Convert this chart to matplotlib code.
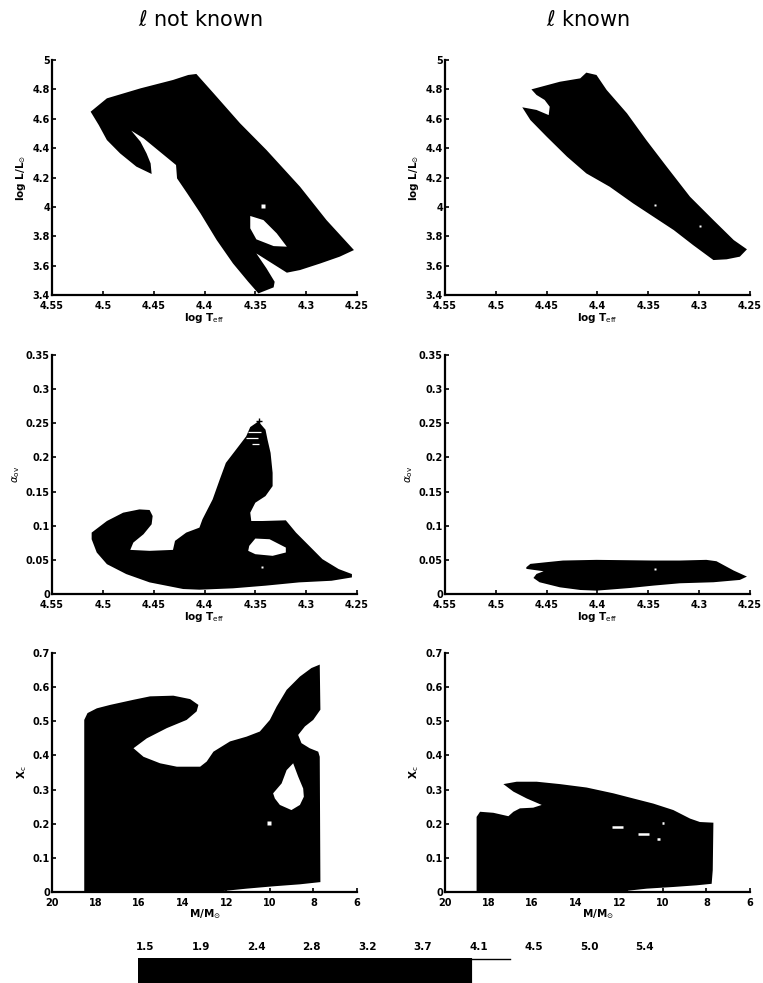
import numpy as np
import matplotlib
matplotlib.use("Agg")
import matplotlib.pyplot as plt
from matplotlib.colors import ListedColormap, BoundaryNorm

# ---- top row: allowed region in the HR diagram ----
hr_free_logt = [4.512, 4.496, 4.463, 4.431, 4.416, 4.408, 4.391, 4.365, 4.339, 4.306,
                4.280, 4.253, 4.267, 4.286, 4.306, 4.319, 4.349, 4.339, 4.331, 4.332,
                4.347, 4.357, 4.372, 4.388, 4.404, 4.417, 4.427, 4.428, 4.444, 4.460,
                4.472, 4.463, 4.457, 4.453, 4.452, 4.467, 4.483, 4.496, 4.504]
hr_free_logl = [4.648, 4.739, 4.807, 4.864, 4.898, 4.905, 4.773, 4.569, 4.387, 4.137,
                3.910, 3.706, 3.661, 3.615, 3.570, 3.552, 3.683, 3.581, 3.490, 3.452,
                3.411, 3.490, 3.615, 3.774, 3.956, 4.092, 4.194, 4.285, 4.376, 4.467,
                4.519, 4.444, 4.364, 4.296, 4.224, 4.274, 4.364, 4.455, 4.557]
hr_free_hole_logt = [4.355, 4.342, 4.329, 4.319, 4.332, 4.349, 4.355]
hr_free_hole_logl = [3.938, 3.910, 3.820, 3.729, 3.733, 3.779, 3.854]
hr_free_dot_logt = [4.342]
hr_free_dot_logl = [4.008]

hr_known_logt = [4.465, 4.437, 4.417, 4.411, 4.401, 4.391, 4.371, 4.352, 4.332, 4.309,
                 4.286, 4.266, 4.253, 4.260, 4.273, 4.286, 4.306, 4.325, 4.345, 4.365,
                 4.388, 4.411, 4.430, 4.450, 4.466, 4.474, 4.460, 4.448, 4.447, 4.452,
                 4.460]
hr_known_logl = [4.800, 4.852, 4.875, 4.914, 4.898, 4.796, 4.637, 4.455, 4.274, 4.069,
                 3.910, 3.774, 3.711, 3.661, 3.643, 3.638, 3.740, 3.842, 3.933, 4.024,
                 4.137, 4.228, 4.342, 4.478, 4.591, 4.678, 4.660, 4.625, 4.682, 4.728,
                 4.762]
hr_known_dot_logt = [4.343, 4.299]
hr_known_dot_logl = [4.013, 3.870]

# ---- middle row: overshoot parameter vs log Teff ----
ov_free_logt = [4.511, 4.496, 4.480, 4.464, 4.454, 4.451, 4.452, 4.460, 4.470, 4.473,
                4.454, 4.431, 4.429, 4.418, 4.405, 4.402, 4.392, 4.385, 4.379, 4.369,
                4.359, 4.355, 4.347, 4.340, 4.338, 4.335, 4.333, 4.333, 4.340, 4.350,
                4.355, 4.354, 4.343, 4.320, 4.310, 4.297, 4.284, 4.268, 4.255, 4.255,
                4.275, 4.307, 4.340, 4.372, 4.405, 4.421, 4.454, 4.477, 4.496, 4.506,
                4.511]
ov_free_aov = [0.0899, 0.1069, 0.1191, 0.1239, 0.1230, 0.1142, 0.1021, 0.0875, 0.0753, 0.0646,
               0.0632, 0.0646, 0.0778, 0.0899, 0.0972, 0.1094, 0.1385, 0.1677, 0.1920, 0.2114,
               0.2309, 0.2445, 0.2527, 0.2406, 0.2260, 0.2066, 0.1774, 0.1580, 0.1434, 0.1337,
               0.1191, 0.1069, 0.1069, 0.1079, 0.0899, 0.0705, 0.0510, 0.0365, 0.0292, 0.0243,
               0.0194, 0.0170, 0.0122, 0.0083, 0.0063, 0.0073, 0.0170, 0.0292, 0.0437, 0.0608,
               0.0802]
ov_free_hole_logt = [4.356, 4.350, 4.336, 4.320, 4.320, 4.333, 4.350, 4.357]
ov_free_hole_aov = [0.0705, 0.0812, 0.0802, 0.0680, 0.0608, 0.0559, 0.0583, 0.0632]
ov_free_dot_logt = [4.343]
ov_free_dot_aov = [0.0389]
ov_free_peak_logt = [4.346]
ov_free_peak_aov = [0.2537]
ov_streak_aov = [0.237, 0.229, 0.219]
ov_streak_t0 = [4.357, 4.359, 4.353]
ov_streak_t1 = [4.344, 4.347, 4.346]

ov_known_logt = [4.470, 4.466, 4.450, 4.434, 4.401, 4.345, 4.319, 4.293, 4.283, 4.266,
                 4.253, 4.260, 4.286, 4.319, 4.345, 4.368, 4.401, 4.417, 4.437, 4.457,
                 4.463, 4.460, 4.453, 4.470]
ov_known_aov = [0.0392, 0.0441, 0.0466, 0.0490, 0.0500, 0.0490, 0.0490, 0.0500, 0.0480, 0.0343,
                0.0255, 0.0206, 0.0172, 0.0157, 0.0123, 0.0088, 0.0049, 0.0059, 0.0098, 0.0172,
                0.0235, 0.0294, 0.0333, 0.0368]
ov_known_dot_logt = [4.343]
ov_known_dot_aov = [0.0368]

# ---- bottom row: central hydrogen vs mass ----
xc_free_mass = [18.52, 18.52, 18.37, 17.94, 17.33, 16.26, 15.50, 14.43, 13.66, 13.28,
                13.36, 13.82, 14.73, 15.65, 16.26, 15.80, 15.04, 14.27, 13.20, 12.90,
                12.59, 11.83, 11.07, 10.46, 10.00, 9.69, 9.23, 8.62, 8.09, 7.71,
                7.68, 8.01, 8.39, 8.70, 8.55, 8.17, 7.78, 7.71, 7.68, 8.62,
                9.85, 11.07, 12.14, 12.29]
xc_free_xc = [0.000, 0.504, 0.524, 0.538, 0.548, 0.563, 0.573, 0.575, 0.565, 0.548,
              0.529, 0.504, 0.480, 0.450, 0.421, 0.396, 0.377, 0.367, 0.367, 0.382,
              0.411, 0.441, 0.455, 0.470, 0.504, 0.543, 0.592, 0.631, 0.656, 0.666,
              0.534, 0.504, 0.485, 0.460, 0.436, 0.421, 0.411, 0.396, 0.029, 0.0225,
              0.0166, 0.0098, 0.0029, 0.000]
xc_free_hole_mass = [9.85, 9.46, 9.23, 8.93, 8.70, 8.47, 8.44, 8.62, 9.01, 9.54, 9.77]
xc_free_hole_xc = [0.289, 0.318, 0.357, 0.377, 0.338, 0.303, 0.279, 0.255, 0.240, 0.255, 0.274]
xc_free_dot_mass = [10.03]
xc_free_dot_xc = [0.201]

xc_known_mass = [18.55, 18.55, 18.39, 17.78, 17.09, 16.86, 16.56, 15.95, 15.56, 16.25,
                 16.86, 17.32, 16.71, 15.79, 14.72, 13.50, 12.27, 11.36, 10.44, 9.52,
                 8.75, 8.30, 7.68, 7.71, 7.76, 8.45, 9.52, 10.74, 11.59, 11.66]
xc_known_xc = [0.000, 0.220, 0.235, 0.232, 0.222, 0.235, 0.245, 0.247, 0.255, 0.274,
               0.294, 0.316, 0.323, 0.323, 0.316, 0.306, 0.289, 0.274, 0.259, 0.240,
               0.215, 0.205, 0.203, 0.064, 0.024, 0.0196, 0.0147, 0.0098, 0.0039, 0.000]
xc_known_gap_m0 = [12.35, 11.15, 10.05, 10.25]
xc_known_gap_m1 = [11.85, 10.65, 9.97, 10.15]
xc_known_gap_xc = [0.191, 0.169, 0.203, 0.154]

# ---- colour bar (ticks evenly spaced, labels rounded) ----
cbar_ticks = [1.5, 1.933, 2.367, 2.8, 3.233, 3.667, 4.1, 4.533, 4.967, 5.4]
cbar_lo, cbar_hi = 1.445, 5.455
cbar_cut = 4.05

W, H = 763, 983


def box(left, top, right, bottom):
    return [left / W, 1 - bottom / H, (right - left) / W, (bottom - top) / H]


def style(ax, xlim, ylim, xticks, yticks, xlabel, ylabel):
    ax.set_xlim(*xlim)
    ax.set_ylim(*ylim)
    ax.set_xticks(xticks)
    ax.set_yticks(yticks)
    ax.set_xticklabels([f"{t:g}" for t in xticks], fontweight="bold")
    ax.set_yticklabels([f"{t:g}" for t in yticks], fontweight="bold")
    for s in ("top", "right"):
        ax.spines[s].set_visible(False)
    for s in ("left", "bottom"):
        ax.spines[s].set_linewidth(1.6)
        ax.spines[s].set_zorder(5)
    ax.tick_params(direction="in", length=3, width=1.2, labelsize=7)
    ax.tick_params(axis="x", pad=4)
    ax.tick_params(axis="y", pad=1.5)
    ax.set_xlabel(xlabel, fontsize=7.5, fontweight="bold", labelpad=0)
    ax.set_ylabel(ylabel, fontsize=7.5, fontweight="bold", labelpad=3)


def blob(ax, xs, ys, col):
    ax.fill(xs, ys, color=col, lw=0)


fig = plt.figure(figsize=(W / 100, H / 100), dpi=100)
fig.patch.set_facecolor("white")

cols = [(52, 357), (445, 750)]
rows = [(60, 295), (355, 594), (653, 892)]
axs = [[fig.add_axes(box(c[0], r[0], c[1], r[1])) for c in cols] for r in rows]

teff_ticks = [4.55, 4.5, 4.45, 4.4, 4.35, 4.3, 4.25]
xlab_t = r"log T$_{\rm eff}$"

# top
for ax in axs[0]:
    style(ax, (4.55, 4.25), (3.4, 5.0), teff_ticks, [3.4, 3.6, 3.8, 4, 4.2, 4.4, 4.6, 4.8, 5],
          xlab_t, r"log L/L$_{\odot}$")
blob(axs[0][0], hr_free_logt, hr_free_logl, "black")
blob(axs[0][0], hr_free_hole_logt, hr_free_hole_logl, "white")
axs[0][0].plot(hr_free_dot_logt, hr_free_dot_logl, "s", color="white", ms=2.5, mec="none")
blob(axs[0][1], hr_known_logt, hr_known_logl, "black")
axs[0][1].plot(hr_known_dot_logt, hr_known_dot_logl, "s", color="white", ms=2, mec="none")

# middle
for ax in axs[1]:
    style(ax, (4.55, 4.25), (0, 0.35), teff_ticks, [0, 0.05, 0.1, 0.15, 0.2, 0.25, 0.3, 0.35],
          xlab_t, r"$\alpha_{\rm ov}$")
blob(axs[1][0], ov_free_logt, ov_free_aov, "black")
blob(axs[1][0], ov_free_hole_logt, ov_free_hole_aov, "white")
axs[1][0].plot(ov_free_dot_logt, ov_free_dot_aov, "s", color="white", ms=2, mec="none")
axs[1][0].plot(ov_free_peak_logt, ov_free_peak_aov, "+", color="black", ms=4, mew=1)
axs[1][0].hlines(ov_streak_aov, ov_streak_t0, ov_streak_t1, color="white", lw=0.9)
blob(axs[1][1], ov_known_logt, ov_known_aov, "black")
axs[1][1].plot(ov_known_dot_logt, ov_known_dot_aov, "s", color="white", ms=2, mec="none")

# bottom
for ax in axs[2]:
    style(ax, (20, 6), (0, 0.7), [20, 18, 16, 14, 12, 10, 8, 6],
          [0, 0.1, 0.2, 0.3, 0.4, 0.5, 0.6, 0.7], r"M/M$_{\odot}$", r"X$_{\rm c}$")
blob(axs[2][0], xc_free_mass, xc_free_xc, "black")
blob(axs[2][0], xc_free_hole_mass, xc_free_hole_xc, "white")
axs[2][0].plot(xc_free_dot_mass, xc_free_dot_xc, "s", color="white", ms=2.5, mec="none")
blob(axs[2][1], xc_known_mass, xc_known_xc, "black")
axs[2][1].hlines(xc_known_gap_xc, xc_known_gap_m0, xc_known_gap_m1, color="white", lw=1.8)

fig.text(200 / W, 1 - 20 / H, r"$\ell$ not known", fontsize=15, ha="center", va="center")
fig.text(588 / W, 1 - 20 / H, r"$\ell$ known", fontsize=15, ha="center", va="center")

# colour bar strip, thresholded to black / white
cax = fig.add_axes(box(138, 958, 652, 983))
grad = np.linspace(cbar_lo, cbar_hi, 400)[None, :]
cmap = ListedColormap(["black", "white"])
norm = BoundaryNorm([cbar_lo, cbar_cut, cbar_hi], cmap.N)
cax.imshow(grad, aspect="auto", cmap=cmap, norm=norm, extent=(cbar_lo, cbar_hi, 0, 1))
cax.plot([cbar_cut, 4.35], [0.97, 0.97], color="black", lw=1)
cax.set_xlim(cbar_lo, cbar_hi)
cax.set_ylim(0, 1)
cax.xaxis.set_ticks_position("top")
cax.set_xticks(cbar_ticks)
cax.set_xticklabels([f"{t:.1f}" for t in cbar_ticks], fontweight="bold")
cax.tick_params(axis="x", length=0, labelsize=7.5, pad=4)
cax.set_yticks([])
for s in cax.spines.values():
    s.set_visible(False)

fig.savefig("out.png", dpi=100)
